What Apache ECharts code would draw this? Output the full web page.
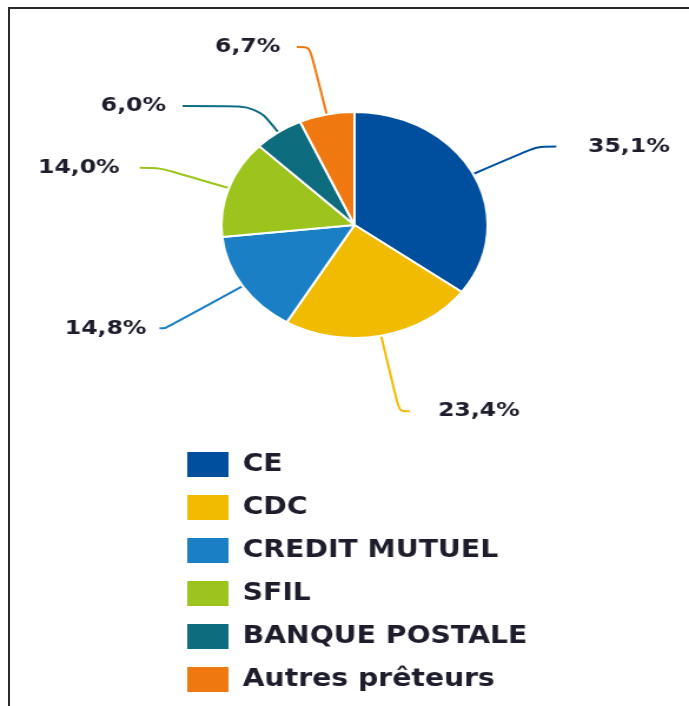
<!DOCTYPE html>
<html>
<head>
<meta charset="utf-8">
<script src="https://cdn.jsdelivr.net/npm/echarts@6/dist/echarts.min.js"></script>
<style>
  html, body { margin: 0; padding: 0; background: #fff; }
  #frame {
    position: absolute; left: 8px; top: 7px; width: 681px; height: 699px;
    border-top: 2px solid #2b2b2b; border-left: 2px solid #2b2b2b;
    box-sizing: border-box;
  }
  /* the source picture is stretched sideways, so the chart is too */
  #chart {
    position: absolute; left: 0; top: 0; width: 585px; height: 706px;
    transform: scaleX(1.1778); transform-origin: 0 0;
  }
</style>
</head>
<body>
<div id="frame"></div>
<div id="chart"></div>
<script>
const lenders = ['CE', 'CDC', 'CREDIT MUTUEL', 'SFIL', 'BANQUE POSTALE', 'Autres prêteurs']
const shares = [35.1, 23.4, 14.8, 14.0, 6.0, 6.7]
const colors = ['#004f9e', '#f0bb00', '#1a7fc4', '#9cc41c', '#0e6c7f', '#f07810']

// label line lengths and gaps, per slice
const lineLength = [61, 77, 78, 62, 32, 69]
const lineLength2 = [16, 9, 5, 17, 63, 11]
const labelGap = [27, 24, 11, 17, 14, 14]

const chart = echarts.init(document.getElementById('chart'))

const option = {
  animation: false,
  color: colors,
  legend: {
    orient: 'vertical',
    left: 157,
    top: 450,
    padding: 0,
    icon: 'rect',
    itemWidth: 37,
    itemHeight: 27,
    itemGap: 14,
    data: lenders,
    textStyle: {
      fontFamily: 'DejaVu Sans',
      fontSize: 24,
      fontWeight: 'bold',
      color: '#1d1d2b',
      lineHeight: 27,
      padding: [0, 0, 0, 6]
    }
  },
  series: [
    {
      type: 'pie',
      center: [301, 225],
      radius: 113,
      avoidLabelOverlap: false,
      itemStyle: {
        borderColor: '#fff',
        borderWidth: 2
      },
      label: {
        show: true,
        fontFamily: 'DejaVu Sans',
        fontSize: 20,
        fontWeight: 'bold',
        color: '#1d1d2b',
        formatter: p => p.value.toFixed(1).replace('.', ',') + '%'
      },
      labelLine: {
        smooth: 0.3,
        lineStyle: { width: 2 }
      },
      data: lenders.map((name, i) => ({
        name,
        value: shares[i],
        label: { distanceToLabelLine: labelGap[i] },
        labelLine: { length: lineLength[i], length2: lineLength2[i] }
      }))
    }
  ]
}

chart.setOption(option)
</script>
</body>
</html>
